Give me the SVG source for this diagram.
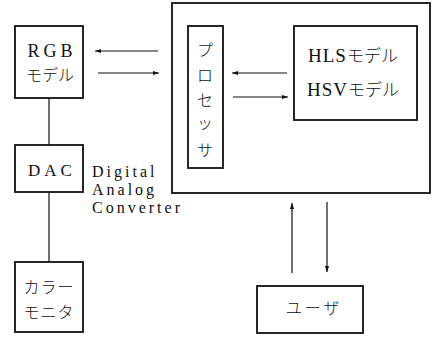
<svg xmlns="http://www.w3.org/2000/svg" width="433" height="337" viewBox="0 0 433 337">
<style>
.box{fill:none;stroke:#111;stroke-width:1.8}
.ln{fill:none;stroke:#111;stroke-width:1.2}
.lat{font-family:"Liberation Serif","Noto Sans CJK JP",serif;fill:#111}
.jp{font-family:"Noto Sans CJK JP",sans-serif;fill:#111;font-weight:300}
</style>
<defs>
<marker id="ah" viewBox="0 0 10 10" refX="10" refY="5" markerWidth="9" markerHeight="6" markerUnits="userSpaceOnUse" orient="auto">
<path d="M0,1.5 L10,5 L0,8.5 Z" fill="#111"/>
</marker>
</defs>
<rect width="433" height="337" fill="#fff"/>
<g id="rgb">
<rect class="box" x="15" y="26" width="68" height="72"/>
<text class="lat" x="52" y="57" font-size="18" letter-spacing="4" text-anchor="middle">RGB</text>
<text class="jp" x="50" y="81" font-size="16" text-anchor="middle">モデル</text>
</g>
<g id="dac">
<rect class="box" x="15" y="145" width="68" height="47"/>
<text class="lat" x="52" y="176" font-size="17" letter-spacing="4" text-anchor="middle">DAC</text>
<text class="lat" x="92" y="177" font-size="16" letter-spacing="3">Digital</text>
<text class="lat" x="92" y="195" font-size="16" letter-spacing="3">Analog</text>
<text class="lat" x="92" y="213" font-size="16" letter-spacing="3">Converter</text>
</g>
<g id="monitor">
<rect class="box" x="15" y="262" width="68" height="70"/>
<text class="jp" x="49" y="293" font-size="16" letter-spacing="1" text-anchor="middle">カラー</text>
<text class="jp" x="49" y="318" font-size="16" letter-spacing="1" text-anchor="middle">モニタ</text>
</g>
<g id="system">
<rect class="box" x="172" y="3" width="258" height="190"/>
</g>
<g id="processor">
<rect class="box" x="188" y="26" width="35" height="142"/>
<text class="jp" x="205" y="56" font-size="16" text-anchor="middle">プ</text>
<text class="jp" x="205" y="81" font-size="16" text-anchor="middle">ロ</text>
<text class="jp" x="205" y="106" font-size="16" text-anchor="middle">セ</text>
<text class="jp" x="205" y="129" font-size="16" text-anchor="middle">ッ</text>
<text class="jp" x="205" y="156" font-size="16" text-anchor="middle">サ</text>
</g>
<g id="hls">
<rect class="box" x="294" y="26" width="123" height="94"/>
<text x="353" y="62" text-anchor="middle"><tspan class="lat" font-family="Liberation Serif, serif" font-size="19" letter-spacing="1">HLS</tspan><tspan class="jp" font-size="17">モデル</tspan></text>
<text x="353" y="96" text-anchor="middle"><tspan class="lat" font-family="Liberation Serif, serif" font-size="19" letter-spacing="1">HSV</tspan><tspan class="jp" font-size="17">モデル</tspan></text>
</g>
<g id="user">
<rect class="box" x="257" y="286" width="106" height="47"/>
<text class="jp" x="314" y="314" font-size="16" letter-spacing="3" text-anchor="middle">ユーザ</text>
</g>
<g id="connectors">
<line class="ln" x1="158" y1="51" x2="95" y2="51" marker-end="url(#ah)"/>
<line class="ln" x1="98" y1="73" x2="159" y2="73" marker-end="url(#ah)"/>
<line class="ln" x1="287" y1="73" x2="232" y2="73" marker-end="url(#ah)"/>
<line class="ln" x1="233" y1="97" x2="288" y2="97" marker-end="url(#ah)"/>
<line class="ln" x1="49" y1="98" x2="49" y2="145"/>
<line class="ln" x1="49" y1="192" x2="49" y2="262"/>
<line class="ln" x1="292" y1="273" x2="292" y2="203" marker-end="url(#ah)"/>
<line class="ln" x1="327" y1="202" x2="327" y2="272" marker-end="url(#ah)"/>
</g>
</svg>
